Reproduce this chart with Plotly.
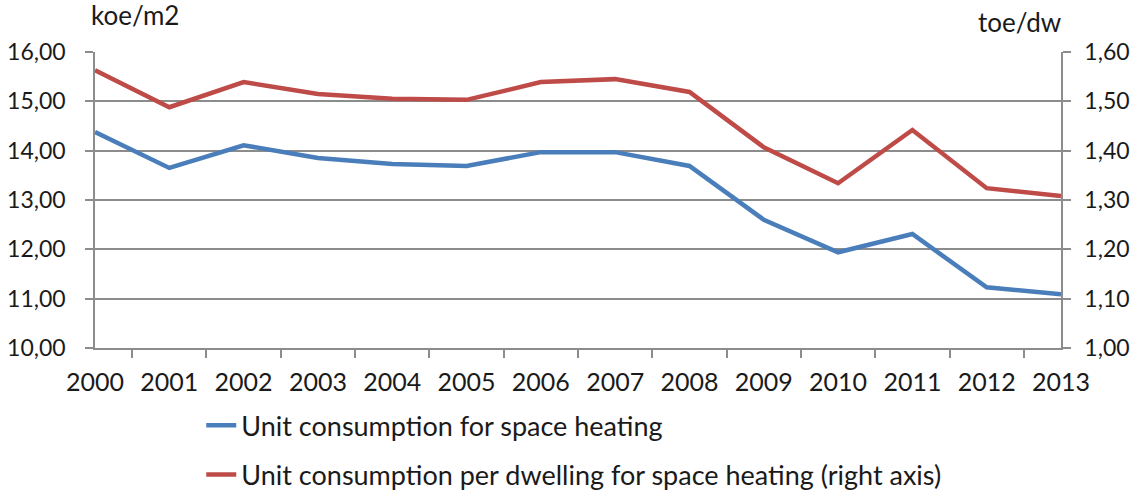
import plotly.graph_objects as go

years = ["2000", "2001", "2002", "2003", "2004", "2005", "2006", "2007",
         "2008", "2009", "2010", "2011", "2012", "2013"]
space_heating = [14.38, 13.65, 14.11, 13.85, 13.73, 13.69, 13.97, 13.97,
                 13.69, 12.60, 11.94, 12.31, 11.23, 11.09]
per_dwelling = [1.563, 1.488, 1.539, 1.515, 1.505, 1.503, 1.539, 1.545,
                1.519, 1.407, 1.334, 1.442, 1.324, 1.308]
left_ticks = [10, 11, 12, 13, 14, 15, 16]
right_ticks = [1.0, 1.1, 1.2, 1.3, 1.4, 1.5, 1.6]
name_blue = "Unit consumption for space heating"
name_red = "Unit consumption per dwelling for space heating (right axis)"

FONT = "Lato"
FS = 23
grid = "#8c8c8c"
txt = "#1a1a1a"

fig = go.Figure()
fig.add_trace(go.Scatter(x=years, y=space_heating, name=name_blue, mode="lines",
                         line=dict(color="#4a7ebb", width=4.5), legendgroup="a"))
fig.add_trace(go.Scatter(x=years, y=per_dwelling, name=name_red, mode="lines",
                         line=dict(color="#be4b48", width=4.5), yaxis="y2", legendgroup="b"))

fig.update_layout(
    width=1136, height=494,
    margin=dict(l=95, r=75, t=52, b=146, autoexpand=False),
    paper_bgcolor="white", plot_bgcolor="white",
    separators=", ",
    font=dict(family=FONT, size=FS, color=txt),
    showlegend=True,
    legend=dict(x=0.110, xanchor="left", y=-0.180, yanchor="top",
                orientation="v", tracegroupgap=11,
                font=dict(family=FONT, size=27, color=txt),
                bgcolor="rgba(0,0,0,0)"),
    xaxis=dict(type="category", tickson="boundaries", ticks="outside", ticklen=8,
               tickcolor=grid, tickwidth=1.5, showline=True, linecolor=grid, linewidth=1.5,
               showgrid=False, mirror=False, ticklabelstandoff=11, automargin=False,
               ticklabeloverflow="allow",
               tickfont=dict(family=FONT, size=25, color=txt)),
    yaxis=dict(range=[10, 16], tickvals=left_ticks, tickformat=".2f",
               ticks="outside", ticklen=8, tickcolor=grid, tickwidth=1.5,
               showline=True, linecolor=grid, linewidth=1.5,
               showgrid=True, gridcolor=grid, gridwidth=1.5, zeroline=False,
               ticklabelstandoff=15, automargin=False, ticklabeloverflow="allow",
               tickfont=dict(family=FONT, size=FS, color=txt)),
    yaxis2=dict(range=[1.0, 1.6], tickvals=right_ticks, tickformat=".2f",
                overlaying="y", side="right",
                ticks="outside", ticklen=8, tickcolor=grid, tickwidth=1.5,
                showline=True, linecolor=grid, linewidth=1.5,
                showgrid=False, zeroline=False,
                ticklabelstandoff=9, automargin=False, ticklabeloverflow="allow",
                tickfont=dict(family=FONT, size=FS, color=txt)),
    annotations=[
        dict(text="koe/m2", xref="paper", yref="paper", x=-0.006, y=1.0,
             xanchor="left", yanchor="bottom", yshift=19, showarrow=False,
             font=dict(family=FONT, size=26, color=txt)),
        dict(text="toe/dw", xref="paper", yref="paper", x=1.002, y=1.0,
             xanchor="right", yanchor="bottom", yshift=12, showarrow=False,
             font=dict(family=FONT, size=26, color=txt)),
    ],
)

fig.write_html("out.html", config={"displayModeBar": False},
               post_script="document.body.style.margin='0';document.body.style.overflow='hidden';")
